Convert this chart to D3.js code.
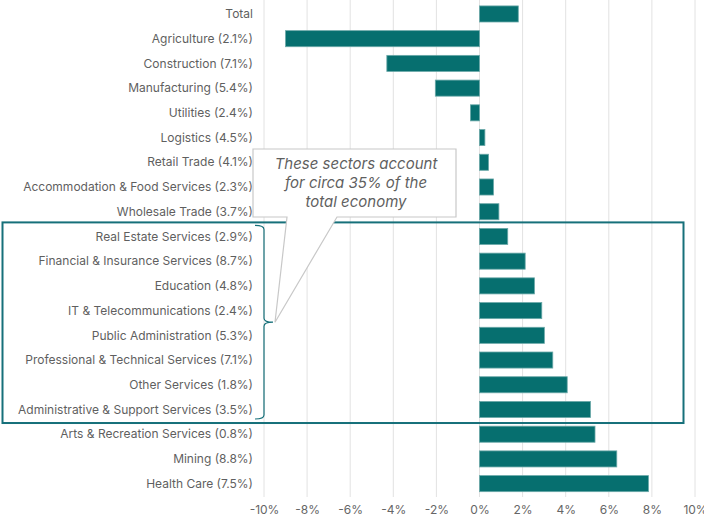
<!DOCTYPE html>
<html>
<head>
<meta charset="utf-8">
<script src="https://cdn.jsdelivr.net/npm/d3@7"></script>
<style>
  body { margin: 0; background: #fff; }
  text { font-family: "Inter", "Noto Sans", sans-serif; }
</style>
</head>
<body>
<div id="chart"></div>
<script>
// Sector names (with share of economy) and growth values in %
const categories = [
    "Total",
    "Agriculture (2.1%)",
    "Construction (7.1%)",
    "Manufacturing (5.4%)",
    "Utilities (2.4%)",
    "Logistics (4.5%)",
    "Retail Trade (4.1%)",
    "Accommodation & Food Services (2.3%)",
    "Wholesale Trade (3.7%)",
    "Real Estate Services (2.9%)",
    "Financial & Insurance Services (8.7%)",
    "Education (4.8%)",
    "IT & Telecommunications (2.4%)",
    "Public Administration (5.3%)",
    "Professional & Technical Services (7.1%)",
    "Other Services (1.8%)",
    "Administrative & Support Services (3.5%)",
    "Arts & Recreation Services (0.8%)",
    "Mining (8.8%)",
    "Health Care (7.5%)"
];
const values = [1.8, -9.0, -4.3, -2.05, -0.42, 0.25, 0.42, 0.65, 0.9,
    1.31, 2.12, 2.55, 2.89, 3.01, 3.4, 4.07, 5.15, 5.36, 6.37, 7.84];
const tickValues = [-10, -8, -6, -4, -2, 0, 2, 4, 6, 8, 10];

// Sectors inside the highlighted box
const highlighted = categories.slice(9, 17);
const calloutLines = ["These sectors account", "for circa 35% of the", "total economy"];

const width = 704;
const height = 517;

const svg = d3.select("#chart").append("svg")
    .attr("width", width)
    .attr("height", height);

const xScale = d3.scaleLinear().domain([-10, 10]).range([264, 695]);
const yScale = d3.scaleBand()
    .domain(categories)
    .range([1.6, 496])
    .paddingInner(0.35)
    .paddingOuter(0.175);

// Gridlines
svg.append("g")
    .selectAll("line")
    .data(tickValues)
    .join("line")
    .attr("x1", d => xScale(d))
    .attr("x2", d => xScale(d))
    .attr("y1", 0)
    .attr("y2", 497)
    .attr("stroke", "#e2e2e2")
    .attr("stroke-width", 1);

// x axis
const xAxis = d3.axisBottom(xScale)
    .tickValues(tickValues)
    .tickSize(0)
    .tickPadding(0)
    .tickFormat(d => d + "%");

svg.append("g")
    .attr("class", "x-axis")
    .attr("transform", "translate(0, 505)")
    .call(xAxis)
    .call(g => g.select(".domain").remove())
    .selectAll("text")
    .attr("fill", "#666")
    .attr("font-size", 12)
    .attr("dy", "0.71em")
    .attr("font-family", "Inter, 'Noto Sans', sans-serif");

// Category labels
svg.append("g")
    .selectAll("text")
    .data(categories)
    .join("text")
    .attr("x", 253)
    .attr("y", d => yScale(d) + yScale.bandwidth() / 2)
    .attr("dy", "0.35em")
    .attr("text-anchor", "end")
    .attr("font-size", 12)
    .attr("fill", "#5f5f5f")
    .text(d => d);

// Bars
svg.append("g")
    .selectAll("rect")
    .data(categories)
    .join("rect")
    .attr("x", (d, i) => xScale(Math.min(0, values[i])))
    .attr("y", d => yScale(d))
    .attr("width", (d, i) => Math.abs(xScale(values[i]) - xScale(0)))
    .attr("height", yScale.bandwidth())
    .attr("fill", "#066f6f")
    .attr("stroke", "#6aa8a8")
    .attr("stroke-width", 0.8);

// Highlight box around the selected sectors
const boxTop = yScale(highlighted[0]) - 6;
const boxBottom = yScale(highlighted[highlighted.length - 1]) + yScale.bandwidth() + 5.5;
svg.append("rect")
    .attr("x", 2.5)
    .attr("y", boxTop)
    .attr("width", 681)
    .attr("height", boxBottom - boxTop)
    .attr("fill", "none")
    .attr("stroke", "#16707a")
    .attr("stroke-width", 2);

// Curly bracket
const bTop = yScale(highlighted[0]) - 3;
const bBottom = yScale(highlighted[highlighted.length - 1]) + yScale.bandwidth() + 1.5;
const bMid = (bTop + bBottom) / 2;
const bx = 264;
svg.append("path")
    .attr("d", `M${bx - 9},${bTop} Q${bx},${bTop} ${bx},${bTop + 4}
        L${bx},${bMid - 4} Q${bx},${bMid} ${bx + 9},${bMid}
        Q${bx},${bMid} ${bx},${bMid + 4}
        L${bx},${bBottom - 4} Q${bx},${bBottom} ${bx - 9},${bBottom}`)
    .attr("fill", "none")
    .attr("stroke", "#16707a")
    .attr("stroke-width", 1.2);

// Callout
const tip = [bx + 11, bMid];
svg.append("path")
    .attr("d", `M253,149 L456,149 L456,217 L337,217 L${tip[0]},${tip[1]} L287,217 L253,217 Z`)
    .attr("fill", "#fff")
    .attr("stroke", "#c8c8c8")
    .attr("stroke-width", 1.2);

svg.append("g")
    .selectAll("text")
    .data(calloutLines)
    .join("text")
    .attr("x", 356)
    .attr("y", (d, i) => 169 + i * 19)
    .attr("text-anchor", "middle")
    .attr("font-size", 15)
    .attr("font-style", "italic")
    .attr("fill", "#5f5f5f")
    .text(d => d);
</script>
</body>
</html>
